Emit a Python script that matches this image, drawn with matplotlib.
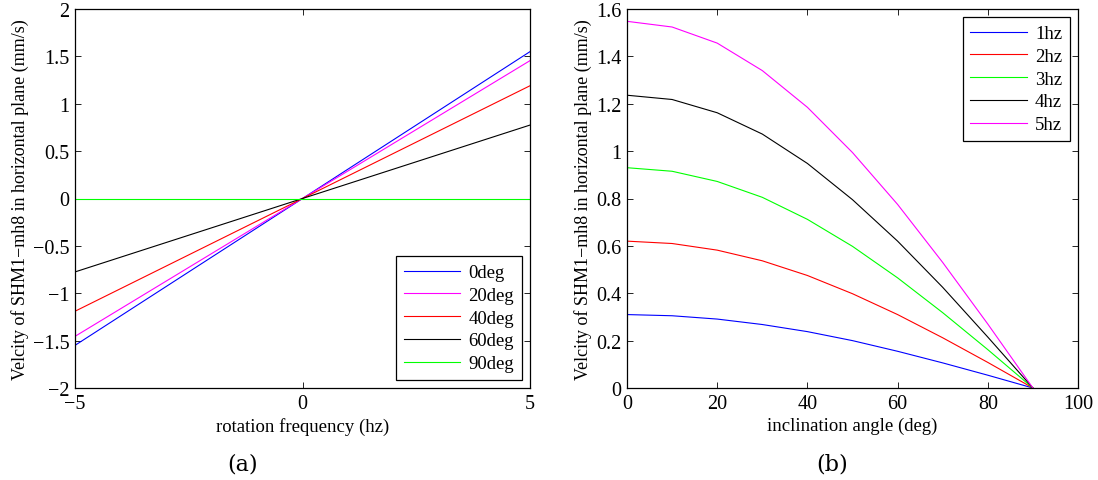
import matplotlib
matplotlib.use("Agg")
import matplotlib.pyplot as plt

plt.rcParams['font.family'] = ['Liberation Serif', 'DejaVu Serif']
plt.rcParams['mathtext.fontset'] = 'cm'

# ---- Panel (a) data ----
freq = [-5, -4, -3, -2, -1, 0, 1, 2, 3, 4, 5]
v_0deg = [-1.55, -1.24, -0.93, -0.62, -0.31, 0.0, 0.31, 0.62, 0.93, 1.24, 1.55]
v_20deg = [-1.455, -1.164, -0.873, -0.582, -0.291, 0.0, 0.291, 0.582, 0.873, 1.164, 1.455]
v_40deg = [-1.19, -0.952, -0.714, -0.476, -0.238, 0.0, 0.238, 0.476, 0.714, 0.952, 1.19]
v_60deg = [-0.775, -0.62, -0.465, -0.31, -0.155, 0.0, 0.155, 0.31, 0.465, 0.62, 0.775]
v_90deg = [0.0, 0.0, 0.0, 0.0, 0.0, 0.0, 0.0, 0.0, 0.0, 0.0, 0.0]
labels_a = ['0deg', '20deg', '40deg', '60deg', '90deg']
colors_a = ['#0000ff', '#ff00ff', '#ff0000', '#000000', '#00ff00']

# ---- Panel (b) data ----
angle = [0, 10, 20, 30, 40, 50, 60, 70, 80, 90]
v_1hz = [0.31, 0.305, 0.291, 0.268, 0.238, 0.200, 0.155, 0.106, 0.054, 0.0]
v_2hz = [0.62, 0.610, 0.582, 0.537, 0.475, 0.398, 0.310, 0.212, 0.108, 0.0]
v_3hz = [0.93, 0.915, 0.872, 0.805, 0.712, 0.598, 0.465, 0.318, 0.162, 0.0]
v_4hz = [1.236, 1.218, 1.162, 1.072, 0.948, 0.795, 0.620, 0.425, 0.215, 0.0]
v_5hz = [1.548, 1.524, 1.456, 1.340, 1.185, 0.994, 0.775, 0.530, 0.270, 0.0]
labels_b = ['1hz', '2hz', '3hz', '4hz', '5hz']
colors_b = ['#0000ff', '#ff0000', '#00ff00', '#000000', '#ff00ff']

W, H = 1098, 481
fig = plt.figure(figsize=(W / 100, H / 100), dpi=100)

ylab = 'Velcity of SHM1\u2212mh8 in horizontal plane (mm/s)'

def style(ax):
    ax.tick_params(direction='in', top=True, right=True, labelsize=14.5,
                   length=4, width=0.6, pad=4)
    for s in ax.spines.values():
        s.set_linewidth(0.9)

legkw = dict(fontsize=13.5, frameon=True, fancybox=False, edgecolor='black',
             handlelength=3.0, handletextpad=0.45, borderpad=0.4, labelspacing=0.3,
             borderaxespad=0.45, framealpha=1)

# Panel (a)
ax1 = fig.add_axes([75 / W, 1 - 389 / H, (530 - 75) / W, (389 - 10) / H])
for ys, lab, c in zip([v_0deg, v_20deg, v_40deg, v_60deg, v_90deg], labels_a, colors_a):
    ax1.plot(freq, ys, color=c, lw=0.8, label=lab)
ax1.set_xlim(-5, 5)
ax1.set_ylim(-2, 2)
ax1.set_xticks([-5, 0, 5])
ax1.set_xticklabels(['\u22125', '0', '5'])
ax1.set_yticks([-2, -1.5, -1, -0.5, 0, 0.5, 1, 1.5, 2])
ax1.set_yticklabels(['\u22122', '\u22121.5', '\u22121', '\u22120.5', '0', '0.5', '1', '1.5', '2'])
style(ax1)
ax1.set_xlabel('rotation frequency (hz)', fontsize=13.5, labelpad=3)
ax1.set_ylabel(ylab, fontsize=13, labelpad=3)
leg1 = ax1.legend(loc='lower right', **legkw)
leg1.get_frame().set_linewidth(0.9)

# Panel (b)
ax2 = fig.add_axes([627 / W, 1 - 389 / H, (1078 - 627) / W, (389 - 10) / H])
for ys, lab, c in zip([v_1hz, v_2hz, v_3hz, v_4hz, v_5hz], labels_b, colors_b):
    ax2.plot(angle, ys, color=c, lw=0.8, label=lab)
ax2.set_xlim(0, 100)
ax2.set_ylim(0, 1.6)
ax2.set_xticks([0, 20, 40, 60, 80, 100])
ax2.set_yticks([0, 0.2, 0.4, 0.6, 0.8, 1, 1.2, 1.4, 1.6])
ax2.set_yticklabels(['0', '0.2', '0.4', '0.6', '0.8', '1', '1.2', '1.4', '1.6'])
style(ax2)
ax2.set_xlabel('inclination angle (deg)', fontsize=13.5, labelpad=3)
ax2.set_ylabel(ylab, fontsize=13, labelpad=3)
leg2 = ax2.legend(loc='upper right', **legkw)
leg2.get_frame().set_linewidth(0.9)

fig.text(243 / W, 1 - 465 / H, '(a)', ha='center', va='center', fontsize=16, family='DejaVu Serif')
fig.text(832 / W, 1 - 465 / H, '(b)', ha='center', va='center', fontsize=16, family='DejaVu Serif')

fig.savefig('out.png', dpi=100)
